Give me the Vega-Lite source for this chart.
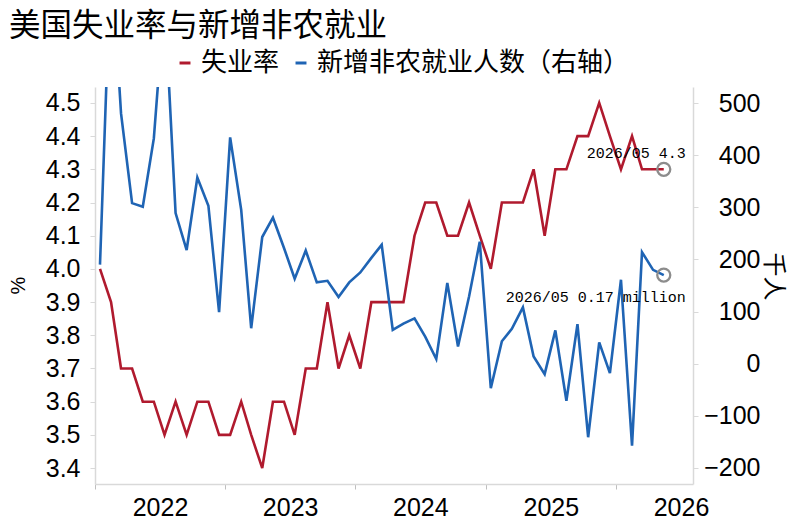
{
  "$schema": "https://vega.github.io/schema/vega-lite/v6.json",
  "width": 598,
  "height": 397,
  "autosize": {"type": "none"},
  "padding": {"left": 95, "top": 87, "right": 113, "bottom": 40},
  "background": "white",
  "title": {
    "text": "美国失业率与新增非农就业",
    "anchor": "start",
    "frame": "group",
    "dx": -86,
    "dy": -4,
    "font": "Noto Sans CJK SC",
    "fontSize": 31.5,
    "fontWeight": "normal",
    "color": "#000000"
  },
  "data": {
    "format": {"parse": {"date": "date"}},
    "values": [
      {"date": "2022-01-15", "u": 4.0, "nfp": 190},
      {"date": "2022-02-15", "u": 3.9, "nfp": 790},
      {"date": "2022-03-15", "u": 3.7, "nfp": 480},
      {"date": "2022-04-15", "u": 3.7, "nfp": 308},
      {"date": "2022-05-15", "u": 3.6, "nfp": 301},
      {"date": "2022-06-15", "u": 3.6, "nfp": 432},
      {"date": "2022-07-15", "u": 3.5, "nfp": 700},
      {"date": "2022-08-15", "u": 3.6, "nfp": 289},
      {"date": "2022-09-15", "u": 3.5, "nfp": 218},
      {"date": "2022-10-15", "u": 3.6, "nfp": 357},
      {"date": "2022-11-15", "u": 3.6, "nfp": 303},
      {"date": "2022-12-15", "u": 3.5, "nfp": 99},
      {"date": "2023-01-15", "u": 3.5, "nfp": 434},
      {"date": "2023-02-15", "u": 3.6, "nfp": 295},
      {"date": "2023-03-15", "u": 3.5, "nfp": 68},
      {"date": "2023-04-15", "u": 3.4, "nfp": 243},
      {"date": "2023-05-15", "u": 3.6, "nfp": 280},
      {"date": "2023-06-15", "u": 3.6, "nfp": 222},
      {"date": "2023-07-15", "u": 3.5, "nfp": 163},
      {"date": "2023-08-15", "u": 3.7, "nfp": 217},
      {"date": "2023-09-15", "u": 3.7, "nfp": 156},
      {"date": "2023-10-15", "u": 3.9, "nfp": 159},
      {"date": "2023-11-15", "u": 3.7, "nfp": 128},
      {"date": "2023-12-15", "u": 3.8, "nfp": 156},
      {"date": "2024-01-15", "u": 3.7, "nfp": 175},
      {"date": "2024-02-15", "u": 3.9, "nfp": 203},
      {"date": "2024-03-15", "u": 3.9, "nfp": 228},
      {"date": "2024-04-15", "u": 3.9, "nfp": 65},
      {"date": "2024-05-15", "u": 3.9, "nfp": 77},
      {"date": "2024-06-15", "u": 4.1, "nfp": 87},
      {"date": "2024-07-15", "u": 4.2, "nfp": 52},
      {"date": "2024-08-15", "u": 4.2, "nfp": 9},
      {"date": "2024-09-15", "u": 4.1, "nfp": 155},
      {"date": "2024-10-15", "u": 4.1, "nfp": 33},
      {"date": "2024-11-15", "u": 4.2, "nfp": 129},
      {"date": "2024-12-15", "u": 4.1, "nfp": 234},
      {"date": "2025-01-15", "u": 4.0, "nfp": -47},
      {"date": "2025-02-15", "u": 4.2, "nfp": 43},
      {"date": "2025-03-15", "u": 4.2, "nfp": 67},
      {"date": "2025-04-15", "u": 4.2, "nfp": 108},
      {"date": "2025-05-15", "u": 4.3, "nfp": 14},
      {"date": "2025-06-15", "u": 4.1, "nfp": -20},
      {"date": "2025-07-15", "u": 4.3, "nfp": 64},
      {"date": "2025-08-15", "u": 4.3, "nfp": -71},
      {"date": "2025-09-15", "u": 4.4, "nfp": 76},
      {"date": "2025-10-15", "u": 4.4, "nfp": -141},
      {"date": "2025-11-15", "u": 4.5, "nfp": 41},
      {"date": "2025-12-15", "u": 4.4, "nfp": -18},
      {"date": "2026-01-15", "u": 4.3, "nfp": 161},
      {"date": "2026-02-15", "u": 4.4, "nfp": -157},
      {"date": "2026-03-15", "u": 4.3, "nfp": 214},
      {"date": "2026-04-15", "u": 4.3, "nfp": 180},
      {"date": "2026-05-15", "u": 4.3, "nfp": 170}
    ]
  },
  "encoding": {
    "x": {
      "field": "date",
      "type": "temporal",
      "scale": {
        "type": "utc",
        "domain": [
          {"year": 2022, "month": 1, "date": 1, "utc": true},
          {"year": 2026, "month": 8, "date": 5, "utc": true}
        ]
      },
      "axis": {
        "title": null,
        "values": [
          {"year": 2022, "month": 1, "date": 1, "utc": true},
          {"year": 2023, "month": 1, "date": 1, "utc": true},
          {"year": 2024, "month": 1, "date": 1, "utc": true},
          {"year": 2025, "month": 1, "date": 1, "utc": true},
          {"year": 2026, "month": 1, "date": 1, "utc": true}
        ],
        "format": "%Y",
        "labelOffset": 65,
        "labelFlush": false,
        "labelOverlap": false,
        "labelBound": false,
        "labelFont": "Liberation Sans",
        "labelFontSize": 25,
        "labelColor": "#000000",
        "labelPadding": 6,
        "domainColor": "#d9d9d9",
        "domainWidth": 1.5,
        "tickColor": "#bfbfbf",
        "tickSize": 5,
        "grid": false
      }
    }
  },
  "layer": [
    {
      "encoding": {
        "y": {
          "field": "u",
          "type": "quantitative",
          "scale": {"domain": [3.352, 4.548], "nice": false, "zero": false},
          "axis": {
            "orient": "left",
            "values": [3.4, 3.5, 3.6, 3.7, 3.8, 3.9, 4.0, 4.1, 4.2, 4.3, 4.4, 4.5],
            "format": ".1f",
            "grid": false,
            "title": "%",
            "titleFont": "Liberation Sans",
            "titleFontSize": 20,
            "titleFontWeight": "normal",
            "titleColor": "#000000",
            "titleX": -77,
            "titleY": 198,
            "titleBaseline": "middle",
            "labelFont": "Liberation Sans",
            "labelFontSize": 25,
            "labelColor": "#000000",
            "labelPadding": 10,
            "domainColor": "#d9d9d9",
            "domainWidth": 1.5,
            "tickColor": "#d9d9d9",
            "tickSize": 5
          }
        }
      },
      "layer": [
        {
          "mark": {"type": "line", "strokeWidth": 2.6, "interpolate": "linear"},
          "encoding": {
            "color": {
              "datum": "失业率",
              "scale": {
                "domain": ["失业率", "新增非农就业人数（右轴）"],
                "range": ["#b01a2e", "#1f64b4"]
              },
              "legend": {
                "title": null,
                "orient": "none",
                "legendX": 77,
                "legendY": -37,
                "direction": "horizontal",
                "symbolType": "stroke",
                "symbolStrokeWidth": 3,
                "symbolSize": 120,
                "labelFont": "Noto Sans CJK SC",
                "labelFontSize": 26,
                "labelColor": "#000000",
                "labelOffset": 3,
                "labelLimit": 500,
                "columnPadding": 8
              }
            }
          }
        },
        {
          "transform": [{"filter": "utcyear(datum.date) == 2026 && utcmonth(datum.date) == 4"}],
          "mark": {"type": "point", "shape": "circle", "filled": false, "stroke": "#8c8c8c", "strokeWidth": 2.3, "size": 170, "opacity": 1}
        },
        {
          "transform": [
            {"filter": "utcyear(datum.date) == 2026 && utcmonth(datum.date) == 4"},
            {"calculate": "utcFormat(datum.date, '%Y/%m') + ' ' + format(datum.u, '.1f')", "as": "lbl"}
          ],
          "mark": {"type": "text", "align": "right", "baseline": "alphabetic", "dx": 22, "dy": -11, "font": "Liberation Mono", "fontSize": 15, "color": "#000000"},
          "encoding": {"text": {"field": "lbl"}}
        }
      ]
    },
    {
      "encoding": {
        "y": {
          "field": "nfp",
          "type": "quantitative",
          "scale": {"domain": [-230.7, 530.7], "nice": false, "zero": false},
          "axis": {
            "orient": "right",
            "values": [-200, -100, 0, 100, 200, 300, 400, 500],
            "grid": false,
            "title": "千人",
            "titleFont": "Noto Sans CJK SC",
            "titleFontSize": 24,
            "titleFontWeight": "normal",
            "titleColor": "#000000",
            "titleAngle": 90,
            "titleX": 79,
            "titleY": 189,
            "titleBaseline": "middle",
            "labelFont": "Liberation Sans",
            "labelFontSize": 25,
            "labelColor": "#000000",
            "labelAlign": "right",
            "labelPadding": 62,
            "domainColor": "#d9d9d9",
            "domainWidth": 1.5,
            "tickColor": "#d9d9d9",
            "tickSize": 5
          }
        }
      },
      "layer": [
        {
          "mark": {"type": "line", "strokeWidth": 2.6, "interpolate": "linear", "clip": true},
          "encoding": {"color": {"datum": "新增非农就业人数（右轴）"}}
        },
        {
          "transform": [{"filter": "utcyear(datum.date) == 2026 && utcmonth(datum.date) == 4"}],
          "mark": {"type": "point", "shape": "circle", "filled": false, "stroke": "#8c8c8c", "strokeWidth": 2.3, "size": 170, "opacity": 1}
        },
        {
          "transform": [
            {"filter": "utcyear(datum.date) == 2026 && utcmonth(datum.date) == 4"},
            {"calculate": "utcFormat(datum.date, '%Y/%m') + ' ' + format(datum.nfp / 1000, '.2f') + ' million'", "as": "lbl"}
          ],
          "mark": {"type": "text", "align": "right", "baseline": "alphabetic", "dx": 22, "dy": 27, "font": "Liberation Mono", "fontSize": 15, "color": "#000000"},
          "encoding": {"text": {"field": "lbl"}}
        }
      ]
    }
  ],
  "resolve": {"scale": {"y": "independent"}},
  "config": {
    "view": {"stroke": null},
    "axis": {"grid": false}
  }
}
